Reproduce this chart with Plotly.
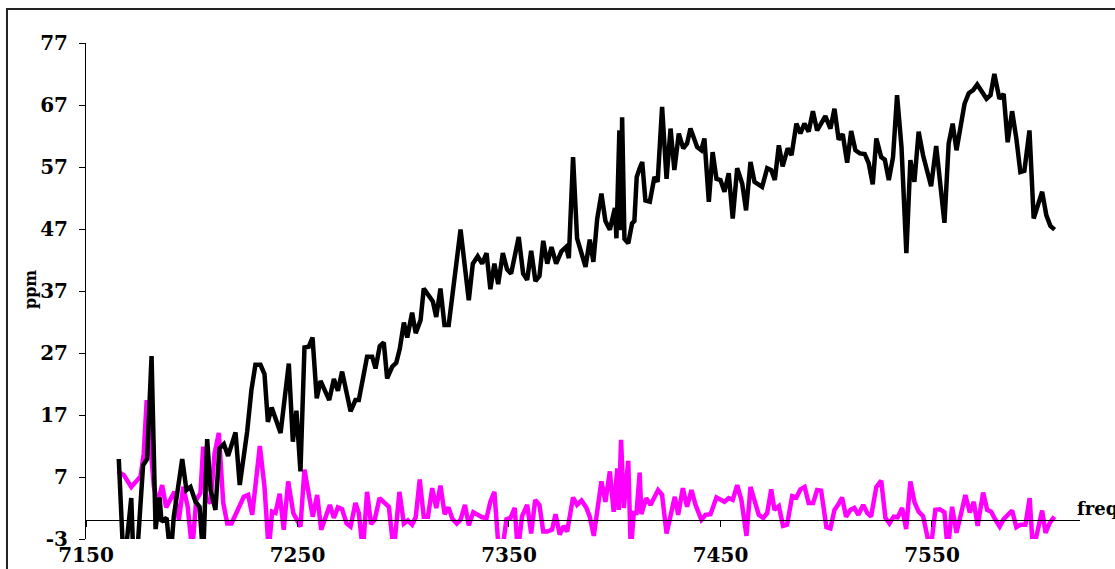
import plotly.graph_objects as go

# Frequency axis (shared) and ppm readings for the two series
freq_black = [
    7165.5, 7167.9, 7171.4, 7172.6, 7173.9, 7177.0, 7178.9, 7181.0, 7182.9, 7184.8,
    7185.7, 7188.1, 7190.0, 7191.5, 7195.5, 7197.5, 7199.4, 7201.8, 7203.7, 7205.4,
    7207.3, 7208.9, 7211.2, 7213.1, 7215.2, 7217.2, 7220.7, 7222.7, 7226.2, 7228.2,
    7230.1, 7232.5, 7234.4, 7236.0, 7237.8, 7242.0, 7245.9, 7247.8, 7249.5, 7251.4,
    7253.3, 7255.3, 7257.1, 7259.1, 7260.9, 7265.0, 7267.2, 7269.1, 7271.1, 7275.1,
    7277.4, 7279.0, 7282.9, 7285.3, 7286.9, 7288.9, 7290.8, 7292.4, 7294.8, 7296.7,
    7298.4, 7300.3, 7301.9, 7304.2, 7305.9, 7308.2, 7309.7, 7312.5, 7314.0, 7315.6,
    7317.6, 7319.5, 7321.5, 7327.1, 7331.0, 7332.9, 7335.2, 7337.3, 7339.4, 7341.2,
    7343.1, 7344.9, 7347.1, 7349.1, 7351.0, 7354.6, 7356.7, 7358.6, 7360.5, 7362.5,
    7364.4, 7366.2, 7368.1, 7370.1, 7372.3, 7374.8, 7377.0, 7378.3, 7380.3, 7382.2,
    7386.2, 7388.2, 7389.9, 7391.7, 7393.7, 7395.6, 7397.7, 7400.1, 7400.8, 7402.2,
    7402.9, 7403.5, 7404.6, 7406.4, 7408.2, 7409.3, 7410.4, 7411.8, 7413.0, 7414.5,
    7416.6, 7418.8, 7420.3, 7422.4, 7424.5, 7426.4, 7428.2, 7430.3, 7432.4, 7434.2,
    7435.8, 7439.0, 7440.9, 7442.4, 7444.5, 7446.3, 7448.1, 7450.0, 7451.9, 7453.9,
    7455.8, 7457.9, 7460.3, 7462.1, 7464.2, 7466.1, 7469.7, 7472.1, 7474.0, 7475.7,
    7477.6, 7479.4, 7481.8, 7483.6, 7485.9, 7487.8, 7489.7, 7491.7, 7493.7, 7495.7,
    7499.6, 7502.0, 7503.9, 7505.9, 7507.8, 7509.9, 7511.8, 7513.8, 7515.9, 7518.2,
    7520.1, 7522.0, 7523.7, 7526.0, 7527.7, 7529.6, 7531.6, 7533.5, 7535.6, 7537.9,
    7539.8, 7541.7, 7543.7, 7545.8, 7547.7, 7549.6, 7552.0, 7554.0, 7555.9, 7557.9,
    7559.8, 7561.6, 7563.5, 7565.4, 7567.4, 7569.5, 7571.4, 7573.7, 7575.8, 7577.7,
    7579.5, 7581.9, 7583.9, 7585.8, 7587.9, 7589.9, 7591.8, 7593.7, 7596.1, 7598.1,
    7600.0, 7602.1, 7604.1, 7606.0, 7608.0,
]
ppm_black = [
    9.9, -8.0, 3.6, -8.0, -7.0, 8.9, 9.9, 26.5, -1.4, 3.7,
    -0.2, 0.4, -6.0, 0.6, 9.9, 4.9, 5.4, 3.0, 2.2, -6.0,
    13.1, 4.9, 1.7, 11.6, 12.3, 10.4, 14.2, 5.7, 14.3, 21.0,
    25.1, 25.1, 23.6, 15.9, 18.2, 14.1, 25.3, 12.7, 17.7, 7.9,
    27.9, 28.0, 29.5, 19.7, 22.5, 19.4, 22.8, 20.9, 24.0, 17.6,
    19.4, 19.4, 26.4, 26.4, 24.5, 28.1, 28.7, 22.9, 24.8, 25.4,
    27.7, 31.9, 29.5, 33.5, 30.2, 32.3, 37.4, 36.1, 35.3, 32.8,
    37.4, 31.5, 31.5, 46.9, 35.5, 41.4, 42.6, 41.4, 43.1, 37.3,
    41.4, 38.1, 43.1, 40.5, 39.8, 45.7, 39.8, 38.8, 43.5, 38.6,
    39.4, 45.1, 41.4, 44.1, 41.4, 43.4, 44.1, 42.3, 58.6, 45.5,
    40.9, 45.3, 41.7, 48.6, 52.7, 48.3, 46.9, 50.4, 45.5, 62.9,
    46.8, 65.0, 45.4, 44.7, 47.9, 48.3, 55.4, 56.8, 57.8, 51.6,
    51.4, 55.4, 54.6, 66.7, 55.1, 63.2, 56.5, 62.4, 60.0, 60.8,
    63.2, 60.2, 59.7, 61.6, 51.4, 59.4, 55.1, 54.9, 53.0, 56.0,
    48.7, 56.8, 54.3, 50.0, 57.8, 54.6, 53.8, 56.8, 56.5, 54.9,
    60.5, 57.1, 60.0, 58.9, 64.0, 62.4, 64.0, 62.7, 66.0, 62.9,
    65.2, 63.2, 66.4, 61.4, 62.3, 57.7, 62.8, 59.7, 59.2, 59.1,
    57.6, 54.2, 61.6, 58.6, 58.2, 54.9, 58.6, 68.6, 60.2, 43.1,
    58.1, 54.6, 62.7, 58.9, 56.0, 53.9, 60.4, 54.3, 48.0, 60.8,
    64.0, 59.7, 63.2, 67.2, 68.9, 69.4, 70.3, 69.1, 68.0, 68.6,
    72.0, 68.0, 68.8, 61.0, 66.0, 61.6, 56.2, 56.4, 62.9, 48.7,
    50.6, 53.0, 49.2, 47.5, 46.9,
]

freq_magenta = [
    7165.0, 7167.9, 7171.4, 7174.2, 7175.8, 7177.3, 7178.7, 7182.1, 7183.9, 7186.0,
    7187.9, 7191.8, 7193.9, 7196.0, 7198.1, 7200.2, 7202.1, 7204.1, 7205.4, 7207.0,
    7208.9, 7210.8, 7212.8, 7214.9, 7216.8, 7218.8, 7224.6, 7226.7, 7228.6, 7232.2,
    7234.4, 7236.4, 7238.0, 7239.6, 7241.6, 7243.5, 7245.6, 7248.0, 7251.4, 7253.3,
    7257.2, 7259.3, 7261.2, 7265.3, 7267.2, 7269.1, 7271.1, 7273.2, 7275.1, 7277.4,
    7279.0, 7280.9, 7282.9, 7284.8, 7286.5, 7288.8, 7291.6, 7293.2, 7295.5, 7298.2,
    7300.3, 7302.2, 7304.2, 7305.9, 7307.8, 7309.7, 7311.7, 7313.7, 7315.6, 7317.6,
    7319.6, 7321.4, 7323.3, 7325.3, 7327.1, 7329.2, 7331.0, 7333.1, 7335.2, 7337.3,
    7339.4, 7341.2, 7343.1, 7345.2, 7346.8, 7348.8, 7350.7, 7352.7, 7354.2, 7356.2,
    7358.6, 7360.5, 7362.4, 7364.4, 7366.2, 7368.1, 7370.4, 7372.0, 7374.0, 7375.9,
    7377.5, 7380.3, 7382.2, 7384.3, 7386.5, 7388.2, 7390.1, 7393.7, 7395.6, 7397.7,
    7399.5, 7401.2, 7401.9, 7403.0, 7404.3, 7406.4, 7407.6, 7409.0, 7410.3, 7411.8,
    7412.6, 7414.9, 7416.9, 7420.5, 7422.4, 7424.5, 7428.4, 7430.0, 7432.2, 7434.2,
    7436.3, 7438.2, 7441.0, 7442.9, 7445.3, 7448.1, 7451.9, 7453.9, 7455.8, 7457.9,
    7459.9, 7462.3, 7464.2, 7466.2, 7468.1, 7470.2, 7472.1, 7474.0, 7475.5, 7477.6,
    7479.6, 7481.5, 7483.9, 7485.9, 7487.8, 7489.8, 7491.7, 7493.8, 7495.7, 7497.6,
    7500.1, 7502.0, 7503.9, 7505.6, 7507.5, 7509.4, 7511.5, 7513.3, 7515.2, 7517.5,
    7519.4, 7521.2, 7523.7, 7526.0, 7528.0, 7529.9, 7531.9, 7533.8, 7535.9, 7537.8,
    7539.8, 7541.7, 7543.7, 7545.8, 7549.3, 7551.6, 7553.7, 7555.9, 7557.5, 7559.5,
    7561.6, 7563.5, 7565.8, 7567.9, 7569.8, 7571.6, 7574.2, 7576.1, 7578.0, 7580.0,
    7582.0, 7583.9, 7585.8, 7587.9, 7589.9, 7591.8, 7594.2, 7596.2, 7597.8, 7602.1,
    7603.7, 7605.7, 7607.9,
]
ppm_magenta = [
    7.9, 7.3, 5.4, 6.4, 7.1, 10.8, 19.4, 5.4, 2.8, 5.7,
    2.1, 4.6, 0.1, 5.4, 2.2, -5.0, 3.3, 4.4, 11.9, 3.3,
    2.8, 10.8, 14.1, 2.8, -0.5, -0.5, 3.8, 4.1, 0.9, 12.0,
    5.4, -5.0, 1.4, 1.2, 4.3, -1.5, 6.3, 1.2, -1.0, 8.2,
    0.6, 4.1, -1.5, 2.5, 0.4, 2.1, 1.8, -0.5, -1.0, 2.8,
    1.2, -5.0, 4.6, -0.6, 0.1, 3.6, 2.8, 2.2, -5.0, 4.6,
    -0.5, 0.0, -0.7, 0.5, 6.6, 0.6, 0.6, 5.2, 2.0, 5.6,
    1.0, 2.1, 0.2, -0.5, 0.1, 2.5, -0.8, 1.3, 0.9, 0.5,
    0.4, 3.0, 4.6, -5.0, -5.0, 0.2, 0.4, 2.0, -5.0, 0.7,
    2.5, -2.1, 3.3, 2.5, -1.8, -1.8, -1.5, 1.0, -2.3, -0.9,
    -1.8, 3.7, 2.5, 3.2, 2.1, 0.6, -2.5, 6.3, 3.0, 7.9,
    1.4, 8.4, 1.7, 13.0, 2.0, 9.6, -5.0, 1.2, 1.2, 7.7,
    1.0, 3.6, 2.5, 4.9, 4.1, -2.1, 3.8, 0.9, 5.2, 2.2,
    4.9, 2.5, 0.1, 0.9, 1.0, 3.7, 3.0, 3.6, 3.3, 5.7,
    3.3, -2.5, 5.4, 3.3, 0.9, 0.4, 1.2, 5.0, 1.7, 2.3,
    -0.9, -0.7, 3.9, 3.7, 5.0, 5.4, 2.8, 2.8, 4.9, 4.8,
    -1.1, -1.3, 1.7, 2.5, 3.7, 0.6, 1.7, 2.0, 0.9, 2.5,
    1.2, 0.6, 5.4, 6.4, 0.4, -0.5, 0.6, 0.5, 2.0, -1.4,
    6.3, 3.0, 1.4, 0.7, -5.0, 1.7, 1.8, 1.3, -5.0, 2.2,
    -2.0, 0.7, 4.1, 1.3, 3.0, -0.9, 4.5, 1.7, 1.4, 0.1,
    -1.0, 0.2, 0.9, 1.6, -1.1, -0.7, -0.7, 3.6, -5.0, 1.6,
    -2.0, -0.4, 0.6,
]

x_ticks = [7150, 7250, 7350, 7450, 7550]
y_ticks = [-3, 7, 17, 27, 37, 47, 57, 67, 77]
x_range = [7150, 7620]
y_range = [-3, 77]

label_font = dict(family="DejaVu Serif", size=20, color="black", weight="bold")

fig = go.Figure()
fig.add_trace(go.Scatter(
    x=freq_magenta, y=ppm_magenta, mode="lines",
    line=dict(color="#FF00FF", width=4.5), showlegend=False,
))
fig.add_trace(go.Scatter(
    x=freq_black, y=ppm_black, mode="lines",
    line=dict(color="#000000", width=4.5), showlegend=False,
))
# invisible trace to bring up the axis drawn through ppm = 0
fig.add_trace(go.Scatter(
    x=[x_range[0]], y=[0], xaxis="x2", mode="lines",
    line=dict(width=0), showlegend=False, hoverinfo="skip",
))

zero_pos = (0 - y_range[0]) / (y_range[1] - y_range[0])

fig.update_layout(
    width=1115, height=569,
    margin=dict(l=86, r=35, t=43, b=30, autoexpand=False),
    paper_bgcolor="white", plot_bgcolor="white",
    xaxis=dict(
        range=x_range, tickvals=x_ticks, ticktext=[str(v) for v in x_ticks],
        showgrid=False, zeroline=False, showline=False, ticks="",
        tickfont=label_font, ticklabelstandoff=2, automargin=False,
    ),
    xaxis2=dict(
        range=x_range, overlaying="x", anchor="free", position=zero_pos,
        side="bottom", tickvals=x_ticks, showticklabels=False,
        showgrid=False, zeroline=False, showline=True, linecolor="black",
        linewidth=1, ticks="outside", ticklen=6, tickcolor="black", tickwidth=1,
        automargin=False,
    ),
    yaxis=dict(
        range=y_range, tickvals=y_ticks, ticktext=[str(v) for v in y_ticks],
        showgrid=False, zeroline=False, showline=True, linecolor="black",
        linewidth=1, ticks="outside", ticklen=6, tickcolor="black",
        tickfont=label_font, ticklabelstandoff=7, automargin=False,
    ),
    annotations=[
        dict(text="ppm", textangle=-90, xref="paper", yref="paper",
             x=-0.0563, y=0.502, xanchor="center", yanchor="middle",
             showarrow=False,
             font=dict(family="DejaVu Serif", size=16, color="black", weight="bold")),
        dict(text="freq", xref="paper", yref="paper",
             x=0.995, y=0.0625, xanchor="left", yanchor="middle",
             showarrow=False,
             font=dict(family="DejaVu Serif", size=18, color="black", weight="bold")),
    ],
    shapes=[
        dict(type="rect", xref="paper", yref="paper",
             x0=-0.0795, x1=1.12, y0=-0.123, y1=1.0685,
             line=dict(color="#222222", width=2), fillcolor="rgba(0,0,0,0)",
             layer="below"),
    ],
)

fig.write_html("out.html")
